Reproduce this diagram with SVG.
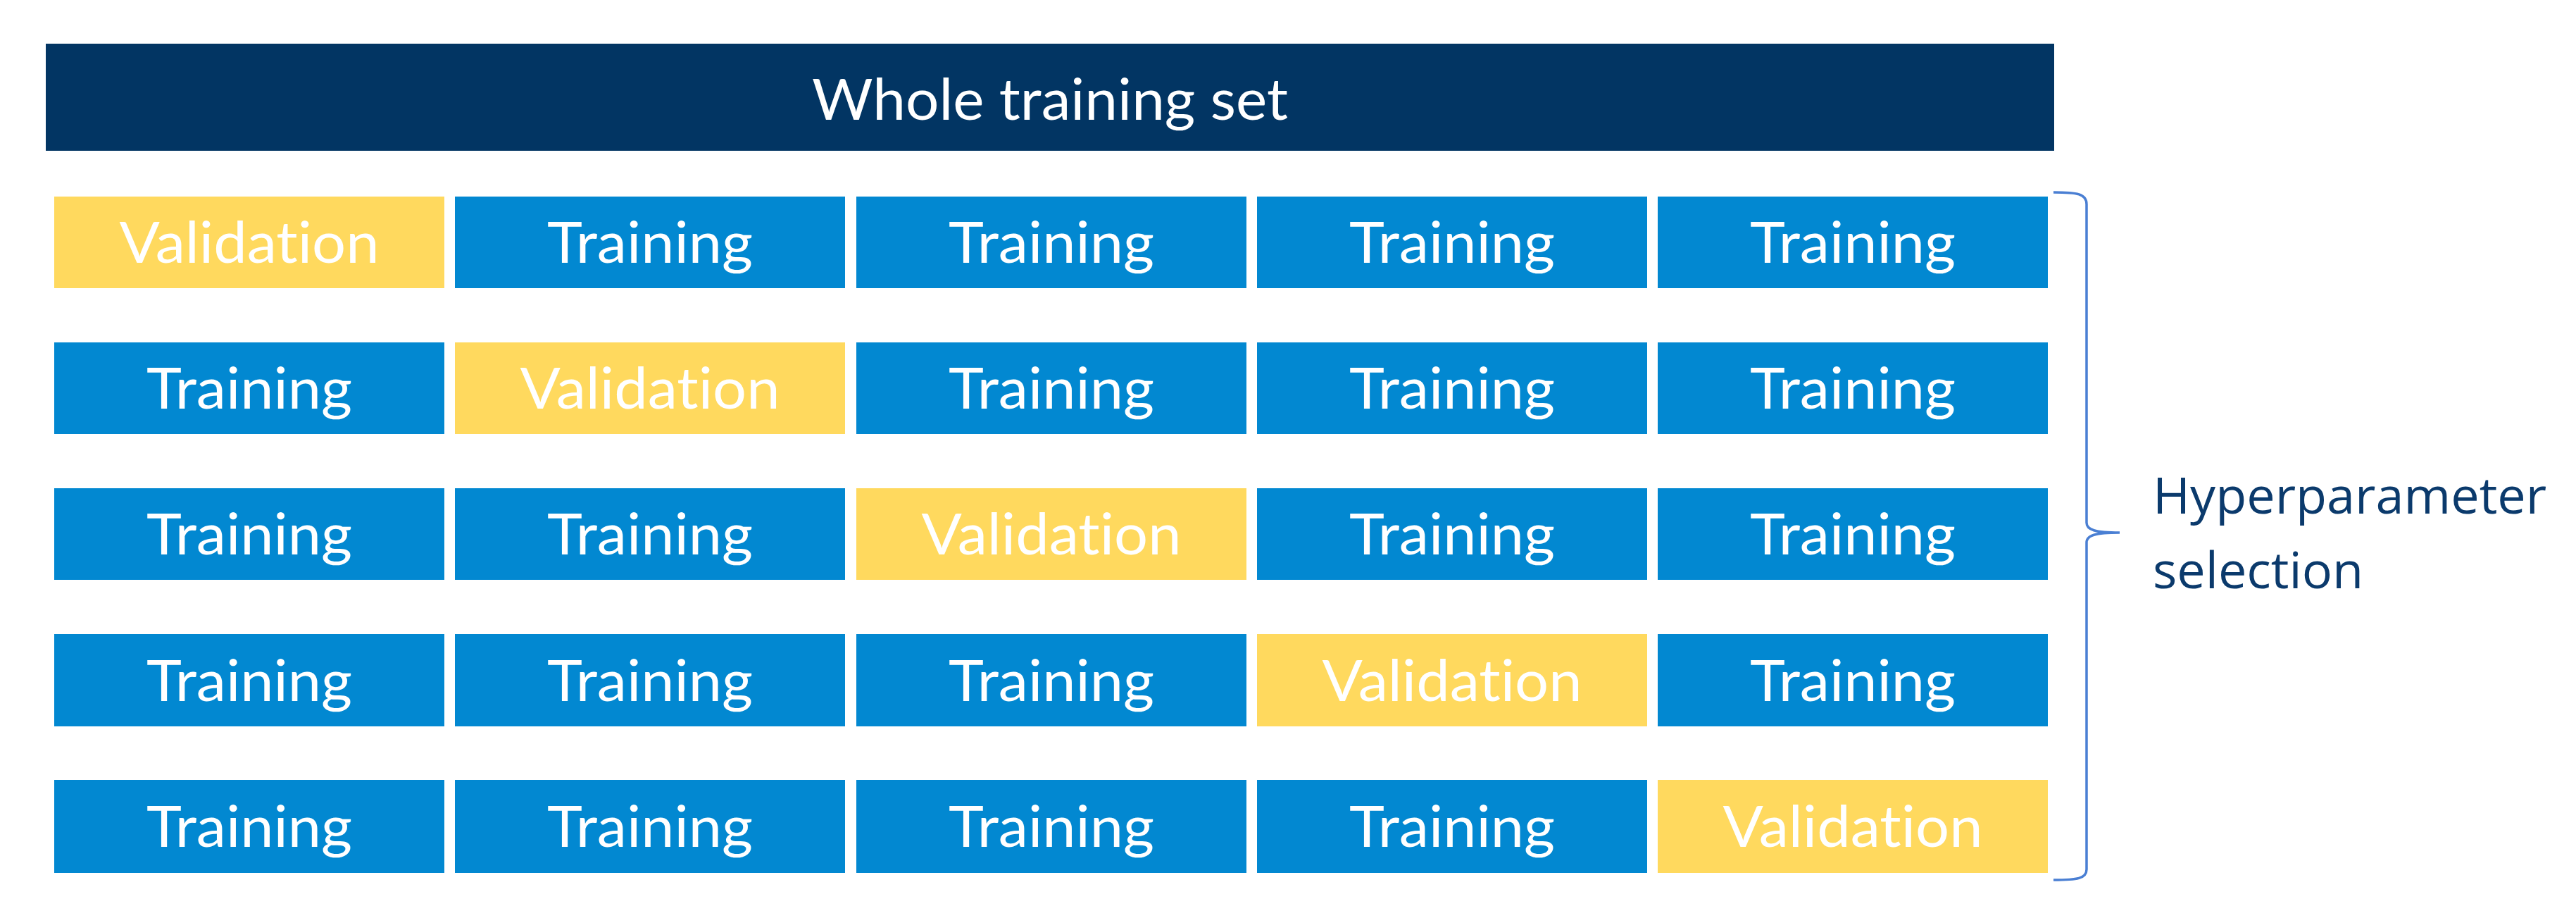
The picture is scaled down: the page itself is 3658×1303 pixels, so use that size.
<svg xmlns="http://www.w3.org/2000/svg" width="3658" height="1303" viewBox="0 0 3658 1303">
<style>
.hdr{fill:#023563;}
.tr{fill:#0288D1;}
.va{fill:#FFD95E;}
.lbl{font-family:Lato,"Open Sans","Liberation Sans",sans-serif;font-size:82px;fill:#FFFFFF;text-anchor:middle;font-variant-ligatures:none;}
.side{font-family:"Open Sans","Noto Sans","Liberation Sans",sans-serif;font-size:72px;fill:#0B3A6C;}
.brace{fill:none;stroke:#4A7FD3;stroke-width:3.5;}
</style>
<rect width="3658" height="1303" fill="#FFFFFF"/>
<g id="whole">
<rect class="hdr" x="65" y="62" width="2852" height="152"/>
<text class="lbl" x="1491" y="170" textLength="676" lengthAdjust="spacingAndGlyphs">Whole training set</text>
</g>
<g id="r1c1"><rect class="va" x="77" y="279" width="554" height="130"/><text class="lbl" x="354" y="373" textLength="369" lengthAdjust="spacingAndGlyphs">Validation</text></g>
<g id="r1c2"><rect class="tr" x="646" y="279" width="554" height="130"/><text class="lbl" x="923" y="373" textLength="292" lengthAdjust="spacingAndGlyphs">Training</text></g>
<g id="r1c3"><rect class="tr" x="1216" y="279" width="554" height="130"/><text class="lbl" x="1493" y="373" textLength="292" lengthAdjust="spacingAndGlyphs">Training</text></g>
<g id="r1c4"><rect class="tr" x="1785" y="279" width="554" height="130"/><text class="lbl" x="2062" y="373" textLength="292" lengthAdjust="spacingAndGlyphs">Training</text></g>
<g id="r1c5"><rect class="tr" x="2354" y="279" width="554" height="130"/><text class="lbl" x="2631" y="373" textLength="292" lengthAdjust="spacingAndGlyphs">Training</text></g>

<g id="r2c1"><rect class="tr" x="77" y="486" width="554" height="130"/><text class="lbl" x="354" y="580" textLength="292" lengthAdjust="spacingAndGlyphs">Training</text></g>
<g id="r2c2"><rect class="va" x="646" y="486" width="554" height="130"/><text class="lbl" x="923" y="580" textLength="369" lengthAdjust="spacingAndGlyphs">Validation</text></g>
<g id="r2c3"><rect class="tr" x="1216" y="486" width="554" height="130"/><text class="lbl" x="1493" y="580" textLength="292" lengthAdjust="spacingAndGlyphs">Training</text></g>
<g id="r2c4"><rect class="tr" x="1785" y="486" width="554" height="130"/><text class="lbl" x="2062" y="580" textLength="292" lengthAdjust="spacingAndGlyphs">Training</text></g>
<g id="r2c5"><rect class="tr" x="2354" y="486" width="554" height="130"/><text class="lbl" x="2631" y="580" textLength="292" lengthAdjust="spacingAndGlyphs">Training</text></g>

<g id="r3c1"><rect class="tr" x="77" y="693" width="554" height="130"/><text class="lbl" x="354" y="787" textLength="292" lengthAdjust="spacingAndGlyphs">Training</text></g>
<g id="r3c2"><rect class="tr" x="646" y="693" width="554" height="130"/><text class="lbl" x="923" y="787" textLength="292" lengthAdjust="spacingAndGlyphs">Training</text></g>
<g id="r3c3"><rect class="va" x="1216" y="693" width="554" height="130"/><text class="lbl" x="1493" y="787" textLength="369" lengthAdjust="spacingAndGlyphs">Validation</text></g>
<g id="r3c4"><rect class="tr" x="1785" y="693" width="554" height="130"/><text class="lbl" x="2062" y="787" textLength="292" lengthAdjust="spacingAndGlyphs">Training</text></g>
<g id="r3c5"><rect class="tr" x="2354" y="693" width="554" height="130"/><text class="lbl" x="2631" y="787" textLength="292" lengthAdjust="spacingAndGlyphs">Training</text></g>

<g id="r4c1"><rect class="tr" x="77" y="900" width="554" height="131"/><text class="lbl" x="354" y="995" textLength="292" lengthAdjust="spacingAndGlyphs">Training</text></g>
<g id="r4c2"><rect class="tr" x="646" y="900" width="554" height="131"/><text class="lbl" x="923" y="995" textLength="292" lengthAdjust="spacingAndGlyphs">Training</text></g>
<g id="r4c3"><rect class="tr" x="1216" y="900" width="554" height="131"/><text class="lbl" x="1493" y="995" textLength="292" lengthAdjust="spacingAndGlyphs">Training</text></g>
<g id="r4c4"><rect class="va" x="1785" y="900" width="554" height="131"/><text class="lbl" x="2062" y="995" textLength="369" lengthAdjust="spacingAndGlyphs">Validation</text></g>
<g id="r4c5"><rect class="tr" x="2354" y="900" width="554" height="131"/><text class="lbl" x="2631" y="995" textLength="292" lengthAdjust="spacingAndGlyphs">Training</text></g>

<g id="r5c1"><rect class="tr" x="77" y="1107" width="554" height="132"/><text class="lbl" x="354" y="1202" textLength="292" lengthAdjust="spacingAndGlyphs">Training</text></g>
<g id="r5c2"><rect class="tr" x="646" y="1107" width="554" height="132"/><text class="lbl" x="923" y="1202" textLength="292" lengthAdjust="spacingAndGlyphs">Training</text></g>
<g id="r5c3"><rect class="tr" x="1216" y="1107" width="554" height="132"/><text class="lbl" x="1493" y="1202" textLength="292" lengthAdjust="spacingAndGlyphs">Training</text></g>
<g id="r5c4"><rect class="tr" x="1785" y="1107" width="554" height="132"/><text class="lbl" x="2062" y="1202" textLength="292" lengthAdjust="spacingAndGlyphs">Training</text></g>
<g id="r5c5"><rect class="va" x="2354" y="1107" width="554" height="132"/><text class="lbl" x="2631" y="1202" textLength="369" lengthAdjust="spacingAndGlyphs">Validation</text></g>

<g id="connectors">
<path class="brace" d="M2916,273 C2950,273 2963,275 2963,290 L2963,742 C2963,752 2975,756 3010,756 C2975,756 2963,760 2963,770 L2963,1234 C2963,1247 2950,1249 2916,1249"/>
</g>
<g id="label">
<text class="side" x="3057" y="729">Hyperparameter</text>
<text class="side" x="3057" y="835">selection</text>
</g>
</svg>
